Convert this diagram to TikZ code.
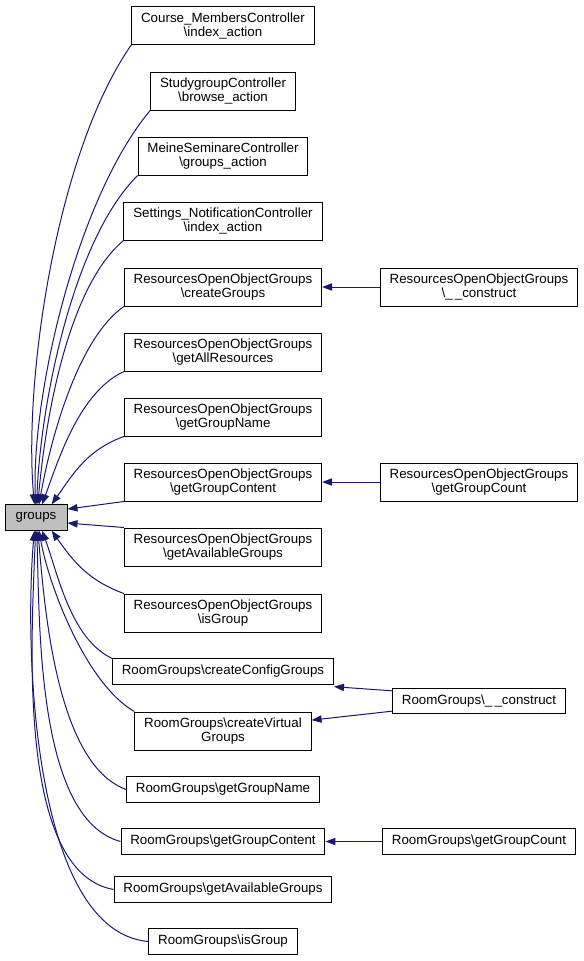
\documentclass[tikz,border=0pt]{standalone}
\usepackage{fontspec}
\setmainfont{Liberation Sans}
\usetikzlibrary{positioning, arrows.meta}
\definecolor{edgeblue}{HTML}{191970}
\definecolor{nodegray}{HTML}{BFBFBF}

\begin{document}
\begin{tikzpicture}[x=0.75pt, y=0.75pt,
		fn/.style={rectangle, draw=black, line width=0.75pt, fill=white, align=center, inner xsep=7pt, inner ysep=1pt, minimum height=28.5pt, font=\fontsize{10}{10.5}\selectfont},
		fnline/.style={fn, minimum height=19pt},
		call/.style={draw=edgeblue, line width=0.75pt, -{Triangle[length=7.5pt,width=5.5pt]}}]
		\useasboundingbox (0,0) rectangle (583,-961);
		
		\node[fnline, fill=nodegray, minimum width=46.5pt, inner xsep=2pt] (groups) at (36,-517.5) {groups};
		
		% callers of groups
		\node[fn] (cmcIndex) at (223,-25.5) {Course\_MembersController\\\textbackslash index\_action};
		\node[fn] (sgcBrowse) at (223,-91) {StudygroupController\\\textbackslash browse\_action};
		\node[fn] (mscGroups) at (223,-156) {MeineSeminareController\\\textbackslash groups\_action};
		\node[fn] (sncIndex) at (223,-221) {Settings\_NotificationController\\\textbackslash index\_action};
		\node[fn] (roogCreate) at (223,-287) {ResourcesOpenObjectGroups\\\textbackslash createGroups};
		\node[fn] (roogAllRes) at (223,-352) {ResourcesOpenObjectGroups\\\textbackslash getAllResources};
		\node[fn] (roogName) at (223,-417) {ResourcesOpenObjectGroups\\\textbackslash getGroupName};
		\node[fn] (roogContent) at (223,-482) {ResourcesOpenObjectGroups\\\textbackslash getGroupContent};
		\node[fn] (roogAvail) at (223,-547) {ResourcesOpenObjectGroups\\\textbackslash getAvailableGroups};
		\node[fn] (roogIsGroup) at (223,-613) {ResourcesOpenObjectGroups\\\textbackslash isGroup};
		\node[fnline] (rgConfig) at (223,-671.5) {RoomGroups\textbackslash createConfigGroups};
		\node[fn] (rgVirtual) at (223,-731) {RoomGroups\textbackslash createVirtual\\Groups};
		\node[fnline] (rgName) at (223,-789.5) {RoomGroups\textbackslash getGroupName};
		\node[fnline] (rgContent) at (223,-841.5) {RoomGroups\textbackslash getGroupContent};
		\node[fnline] (rgAvail) at (223,-889.5) {RoomGroups\textbackslash getAvailableGroups};
		\node[fnline] (rgIsGroup) at (223,-941.5) {RoomGroups\textbackslash isGroup};
		
		% second level
		\node[fn] (roogConstruct) at (479,-287) {ResourcesOpenObjectGroups\\\textbackslash \_\,\_construct};
		\node[fn] (roogCount) at (479,-482) {ResourcesOpenObjectGroups\\\textbackslash getGroupCount};
		\node[fnline] (rgConstruct) at (479,-701) {RoomGroups\textbackslash \_\,\_construct};
		\node[fnline] (rgCount) at (479,-841.5) {RoomGroups\textbackslash getGroupCount};
		
		\draw[call] (cmcIndex.south west) to[out=235, in=95, looseness=0.7] (groups.97);
		\draw[call] (sgcBrowse.south west) to[out=230, in=92, looseness=0.7] (groups.92);
		\draw[call] (mscGroups.south west) to[out=225, in=88, looseness=0.7] (groups.87);
		\draw[call] (sncIndex.south west) to[out=220, in=85, looseness=0.7] (groups.82);
		\draw[call] (roogCreate.south west) to[out=215, in=80, looseness=0.7] (groups.77);
		\draw[call] (roogAllRes.south west) to[out=205, in=70, looseness=0.8] (groups.65);
		\draw[call] (roogName.south west) to[out=200, in=55] (groups.40);
		\draw[call] (roogContent.south west) -- (groups.15);
		\draw[call] (roogAvail.north west) -- (groups.-10);
		\draw[call] (roogIsGroup.north west) to[out=160, in=-55] (groups.-40);
		\draw[call] (rgConfig.north west) to[out=155, in=-70, looseness=0.8] (groups.-65);
		\draw[call] (rgVirtual.north west) to[out=150, in=-80, looseness=0.7] (groups.-77);
		\draw[call] (rgName.west) to[out=160, in=-85, looseness=0.7] (groups.-82);
		\draw[call] (rgContent.west) to[out=165, in=-88, looseness=0.7] (groups.-87);
		\draw[call] (rgAvail.west) to[out=170, in=-92, looseness=0.7] (groups.-92);
		\draw[call] (rgIsGroup.west) to[out=175, in=-95, looseness=0.7] (groups.-97);
		
		\draw[call] (roogConstruct) -- (roogCreate);
		\draw[call] (roogCount) -- (roogContent);
		\draw[call] ([yshift=-2.25pt]rgConstruct.north west) -- ([yshift=-1.5pt]rgConfig.south east);
		\draw[call] ([yshift=2.25pt]rgConstruct.south west) -- (rgVirtual.7);
		\draw[call] (rgCount) -- (rgContent);
\end{tikzpicture}
\end{document}
